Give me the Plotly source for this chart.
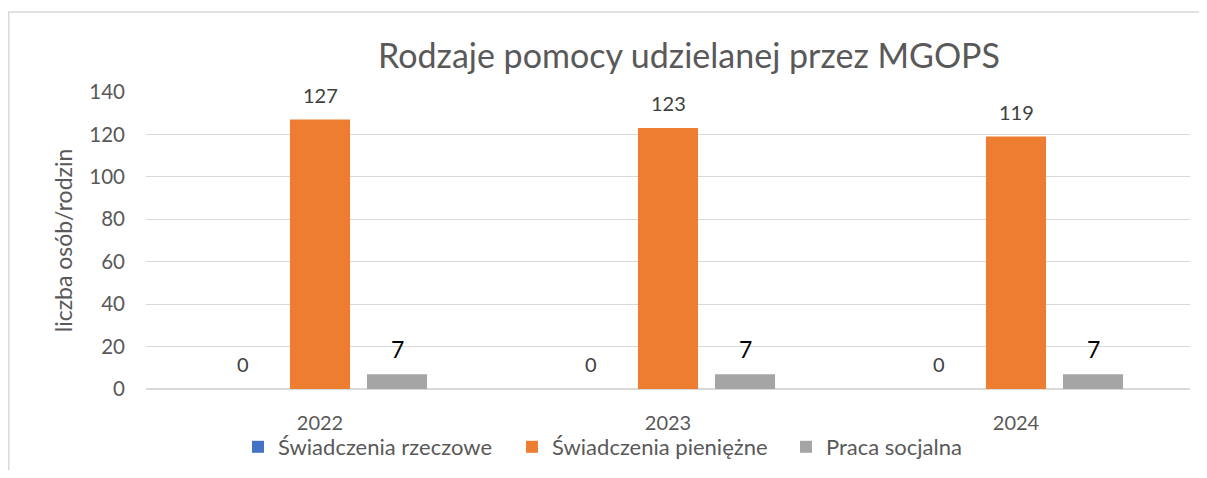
import plotly.graph_objects as go

years = ["2022", "2023", "2024"]
series_names = ["Świadczenia rzeczowe", "Świadczenia pieniężne", "Praca socjalna"]
rzeczowe = [0, 0, 0]
pieniezne = [127, 123, 119]
socjalna = [7, 7, 7]
colors = ["#4472C4", "#ED7D31", "#A5A5A5"]
title_text = "Rodzaje pomocy udzielanej przez MGOPS"
y_title = "liczba osób/rodzin"

FONT = "Lato, 'Open Sans', sans-serif"
OFF = 8  # default page body margin
W, H = 1207 - 2 * OFF, 478 - 2 * OFF
L, T = 146 - OFF, 92 - OFF
R = W - (1190 - OFF)
B = H - (389 - OFF)
pw, ph = W - L - R, H - T - B

fig = go.Figure()
all_vals = [rzeczowe, pieniezne, socjalna]
for name, vals, col in zip(series_names, all_vals, colors):
    fig.add_trace(go.Bar(x=years, y=vals, name=name, marker=dict(color=col, line=dict(width=0))))

# data labels via annotations anchored to data coordinates (category index)
shifts = [-77, 0, 77]
label_styles = [
    dict(color="#404040", size=20),
    dict(color="#404040", size=20),
    dict(color="#000000", size=23),
]
for vals, xs, st in zip(all_vals, shifts, label_styles):
    for i, v in enumerate(vals):
        fig.add_annotation(x=i, y=v, text=str(v), showarrow=False, xshift=xs, yshift=25,
                           yanchor="middle", font=dict(family=FONT, size=st["size"], color=st["color"]))

# outer chart frame
fig.add_shape(type="rect", xref="paper", yref="paper",
              x0=(0.75 - L) / pw, x1=(W + 20 - L) / pw,
              y0=-(B + 20) / ph, y1=1 + (T - (12 - OFF)) / ph,
              line=dict(color="#D9D9D9", width=1.5), fillcolor="rgba(0,0,0,0)", layer="below")

fig.update_layout(
    width=W, height=H,
    margin=dict(l=L, r=R, t=T, b=B, autoexpand=False),
    paper_bgcolor="white", plot_bgcolor="white",
    barmode="group", bargap=0.336, bargroupgap=0.22,
    font=dict(family=FONT, color="#595959"),
    title=dict(text=title_text, x=(689 - OFF) / W, xanchor="center", y=1 - (56 - OFF) / H, yanchor="middle",
               font=dict(family=FONT, size=34, color="#595959")),
    xaxis=dict(type="category", showgrid=False, showline=False, ticks="", automargin=False,
               range=[-0.5, 2.5],
               ticklabelstandoff=20, tickfont=dict(size=20, color="#595959")),
    yaxis=dict(range=[0, 140], dtick=20, showgrid=True, gridcolor="#D9D9D9", gridwidth=1,
               zeroline=True, zerolinecolor="#D9D9D9", zerolinewidth=1.5, automargin=False,
               showline=False, ticks="", ticklabelstandoff=20, tickfont=dict(size=20.5, color="#595959"),
               title=dict(text=y_title, font=dict(size=23, color="#595959"), standoff=10)),
    legend=dict(orientation="h", x=(649 - OFF - L) / pw, xanchor="center",
                y=-(447 - 389) / ph, yanchor="middle", bgcolor="rgba(0,0,0,0)",
                entrywidth=229, entrywidthmode="pixels",
                font=dict(size=22, color="#595959"), itemwidth=30, traceorder="normal"),
    showlegend=True,
)

fig.write_html("out.html")
